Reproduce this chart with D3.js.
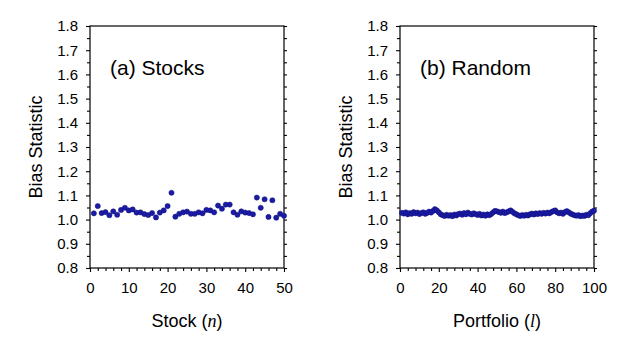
<!DOCTYPE html>
<html><head><meta charset="utf-8">
<script src="https://cdn.jsdelivr.net/npm/d3@7"></script>
<style>
body{margin:0;background:#fff}
svg text{font-family:"Liberation Sans",Arial,sans-serif;fill:#000}
</style>
</head><body>
<svg id="chart" width="633" height="345"></svg>
<script>
// ---- data ----
const stockValues = [
  1.026,1.056,1.027,1.031,1.018,1.034,1.020,1.040,1.049,1.038,
  1.042,1.029,1.030,1.023,1.019,1.027,1.009,1.029,1.038,1.056,
  1.111,1.012,1.024,1.030,1.033,1.024,1.024,1.030,1.026,1.040,
  1.038,1.030,1.058,1.045,1.062,1.062,1.030,1.020,1.034,1.029,
  1.027,1.022,1.091,1.049,1.084,1.011,1.080,1.008,1.024,1.016
];
const portfolioValues = [
  1.028,1.025,1.030,1.022,1.027,1.024,1.031,1.026,1.029,1.023,
  1.027,1.030,1.024,1.028,1.033,1.029,1.036,1.043,1.038,1.030,
  1.022,1.018,1.015,1.020,1.016,1.019,1.014,1.021,1.017,1.023,
  1.025,1.020,1.027,1.022,1.029,1.024,1.021,1.026,1.023,1.019,
  1.024,1.017,1.021,1.016,1.022,1.018,1.023,1.030,1.036,1.034,
  1.031,1.028,1.033,1.027,1.030,1.034,1.038,1.032,1.026,1.022,
  1.018,1.015,1.019,1.016,1.020,1.017,1.022,1.025,1.021,1.026,
  1.023,1.027,1.024,1.028,1.025,1.029,1.026,1.031,1.035,1.038,
  1.030,1.026,1.029,1.024,1.031,1.035,1.030,1.025,1.021,1.018,
  1.016,1.019,1.014,1.017,1.015,1.020,1.018,1.026,1.033,1.037
];
const yTickValues = [0.8,0.9,1.0,1.1,1.2,1.3,1.4,1.5,1.6,1.7,1.8];
const stockTicks = [0,10,20,30,40,50];
const portfolioTicks = [0,20,40,60,80,100];
const panelTitles = ["(a) Stocks","(b) Random"];
const xTitles = ["Stock","Portfolio"];
const xVars = ["n","l"];
const yTitle = "Bias Statistic";

// ---- layout ----
const svg = d3.select("#chart");
const plotTop = 26, plotBottom = 268;
const panels = [
  {left:90, right:284, data:stockValues, ticks:stockTicks, minorStep:2, title:panelTitles[0], xt:xTitles[0], xv:xVars[0]},
  {left:400, right:594, data:portfolioValues, ticks:portfolioTicks, minorStep:4, title:panelTitles[1], xt:xTitles[1], xv:xVars[1]}
];
const dotColor = "#1b1ba6";

panels.forEach(p => {
  const xMax = p.ticks[p.ticks.length-1];
  const x = d3.scaleLinear().domain([0, xMax]).range([p.left, p.right]);
  const y = d3.scaleLinear().domain([0.8, 1.8]).range([plotBottom, plotTop]);
  const g = svg.append("g");

  g.append("rect").attr("x", p.left).attr("y", plotTop)
    .attr("width", p.right - p.left).attr("height", plotBottom - plotTop)
    .attr("fill", "none").attr("stroke", "#000").attr("stroke-width", 1.2);

  const yMinor = d3.range(0.85, 1.8, 0.1);
  const xMinor = d3.range(0, xMax + 0.001, p.minorStep).filter(v => !p.ticks.includes(v));

  g.append("g").attr("transform", `translate(${p.left},0)`)
    .call(d3.axisLeft(y).tickValues(yTickValues).tickSize(4).tickPadding(8).tickFormat(d3.format(".1f")));
  g.append("g").attr("transform", `translate(${p.left},0)`)
    .call(d3.axisLeft(y).tickValues(yMinor).tickSize(3).tickFormat(""));
  g.append("g").attr("transform", `translate(${p.right},0)`)
    .call(d3.axisRight(y).tickValues(yTickValues.concat(yMinor)).tickSize(3).tickFormat(""));
  g.append("g").attr("transform", `translate(0,${plotBottom})`)
    .call(d3.axisBottom(x).tickValues(p.ticks).tickSize(4).tickPadding(10).tickFormat(d3.format("d")));
  g.append("g").attr("transform", `translate(0,${plotBottom})`)
    .call(d3.axisBottom(x).tickValues(xMinor).tickSize(3).tickFormat(""));

  g.selectAll(".domain").remove();
  g.selectAll(".tick line").attr("stroke", "#000").attr("stroke-width", 1.1);
  g.selectAll(".tick text").attr("font-size", 15).attr("fill", "#000")
    .style("font-family", '"Liberation Sans",Arial,sans-serif');

  g.append("g").selectAll("circle").data(p.data).join("circle")
    .attr("cx", (d, i) => x(i + 1)).attr("cy", d => y(d)).attr("r", 2.6)
    .attr("fill", dotColor).attr("stroke", "#10107a").attr("stroke-width", 0.5);

  g.append("text").attr("x", p.left + 20).attr("y", 75).attr("font-size", 21).text(p.title);

  const xt = g.append("text").attr("x", (p.left + p.right) / 2).attr("y", 327)
    .attr("text-anchor", "middle").attr("font-size", 18);
  xt.append("tspan").text(p.xt + " (");
  xt.append("tspan").style("font-family", '"Liberation Serif","Times New Roman",serif')
    .attr("font-style", "italic").text(p.xv);
  xt.append("tspan").text(")");

  g.append("text").attr("transform", `translate(${p.left - 48},${(plotTop + plotBottom) / 2}) rotate(-90)`)
    .attr("text-anchor", "middle").attr("font-size", 18).text(yTitle);
});
</script>
</body></html>
